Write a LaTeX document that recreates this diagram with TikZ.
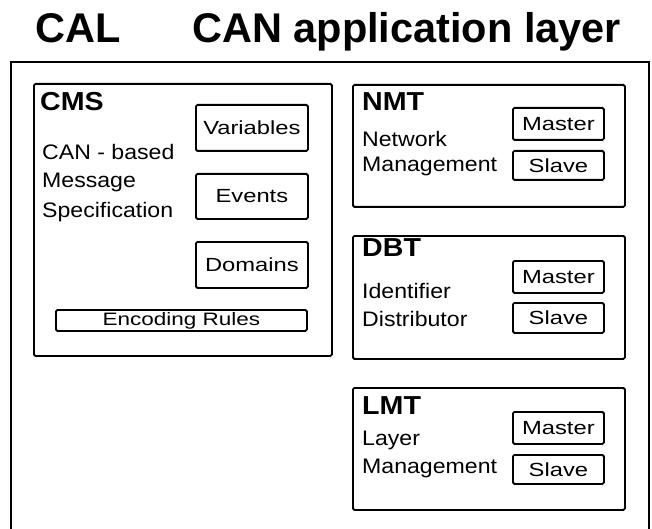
\documentclass[tikz,border=0pt]{standalone}
\usepackage{fontspec}
\setmainfont{Liberation Sans}
\newfontfamily\widefont[FakeStretch=1.25]{Liberation Sans}
\newfontfamily\midfont[FakeStretch=1.1]{Liberation Sans}
\begin{document}
\begin{tikzpicture}[x=1pt,y=-1pt,
  frame/.style={draw, line width=1.8pt, rounded corners=1.5pt, anchor=north west, inner sep=0pt},
  lbl/.style={frame, font=\widefont\fontsize{19}{22}\selectfont},
  ttl/.style={anchor=west, inner sep=0pt, font=\midfont\bfseries\fontsize{26}{28}\selectfont},
  body/.style={anchor=west, inner sep=0pt, font=\midfont\fontsize{21}{24}\selectfont},
  head/.style={anchor=base west, inner sep=0pt, font=\bfseries\fontsize{41.5}{46}\selectfont}]
\useasboundingbox (0,0) rectangle (652,529);
% heading
\node[head] (cal) at (35,43) {CAL};
\node[head] (title) at (192,43) {CAN application layer};
% outer frame (open at the bottom)
\draw[line width=1.8pt] (11,529) -- (11,62) -- (649,62) -- (649,529);
% CMS
\node[frame, minimum width=298pt, minimum height=272pt] (cms) at (33,83) {};
\node[ttl] (cmst) at (40,102) {CMS};
\node[body] (cms1) at (42,152) {CAN - based};
\node[body] (cms2) at (42,182) {Message};
\node[body] (cms3) at (42,212) {Specification};
\node[lbl, minimum width=112pt, minimum height=46pt] (var) at (195,104) {Variables};
\node[lbl, minimum width=112pt, minimum height=45pt] (evt) at (195,173) {Events};
\node[lbl, minimum width=112pt, minimum height=46pt] (dom) at (195,241) {Domains};
\node[lbl, minimum width=251pt, minimum height=21pt, font=\widefont\fontsize{18}{20}\selectfont] (enc) at (55,309) {Encoding Rules};
% NMT
\node[frame, minimum width=272pt, minimum height=122pt] (nmt) at (352,84) {};
\node[ttl] (nmtt) at (362,102) {NMT};
\node[body] (nmt1) at (362,139) {Network};
\node[body] (nmt2) at (362,166) {Management};
\node[lbl, minimum width=91pt, minimum height=32pt] (nmtm) at (512,107) {Master};
\node[lbl, minimum width=91pt, minimum height=29pt] (nmts) at (512,150) {Slave};
% DBT
\node[frame, minimum width=272pt, minimum height=123pt] (dbt) at (352,235) {};
\node[ttl] (dbtt) at (362,248) {DBT};
\node[body] (dbt1) at (362,291) {Identifier};
\node[body] (dbt2) at (362,319) {Distributor};
\node[lbl, minimum width=91pt, minimum height=32pt] (dbtm) at (512,260) {Master};
\node[lbl, minimum width=91pt, minimum height=30pt] (dbts) at (512,302) {Slave};
% LMT
\node[frame, minimum width=272pt, minimum height=122pt] (lmt) at (352,387) {};
\node[ttl] (lmtt) at (362,406) {LMT};
\node[body] (lmt1) at (362,440) {Layer};
\node[body] (lmt2) at (362,468) {Management};
\node[lbl, minimum width=91pt, minimum height=32pt] (lmtm) at (512,411) {Master};
\node[lbl, minimum width=91pt, minimum height=29pt] (lmts) at (512,454) {Slave};
\end{tikzpicture}
\end{document}
